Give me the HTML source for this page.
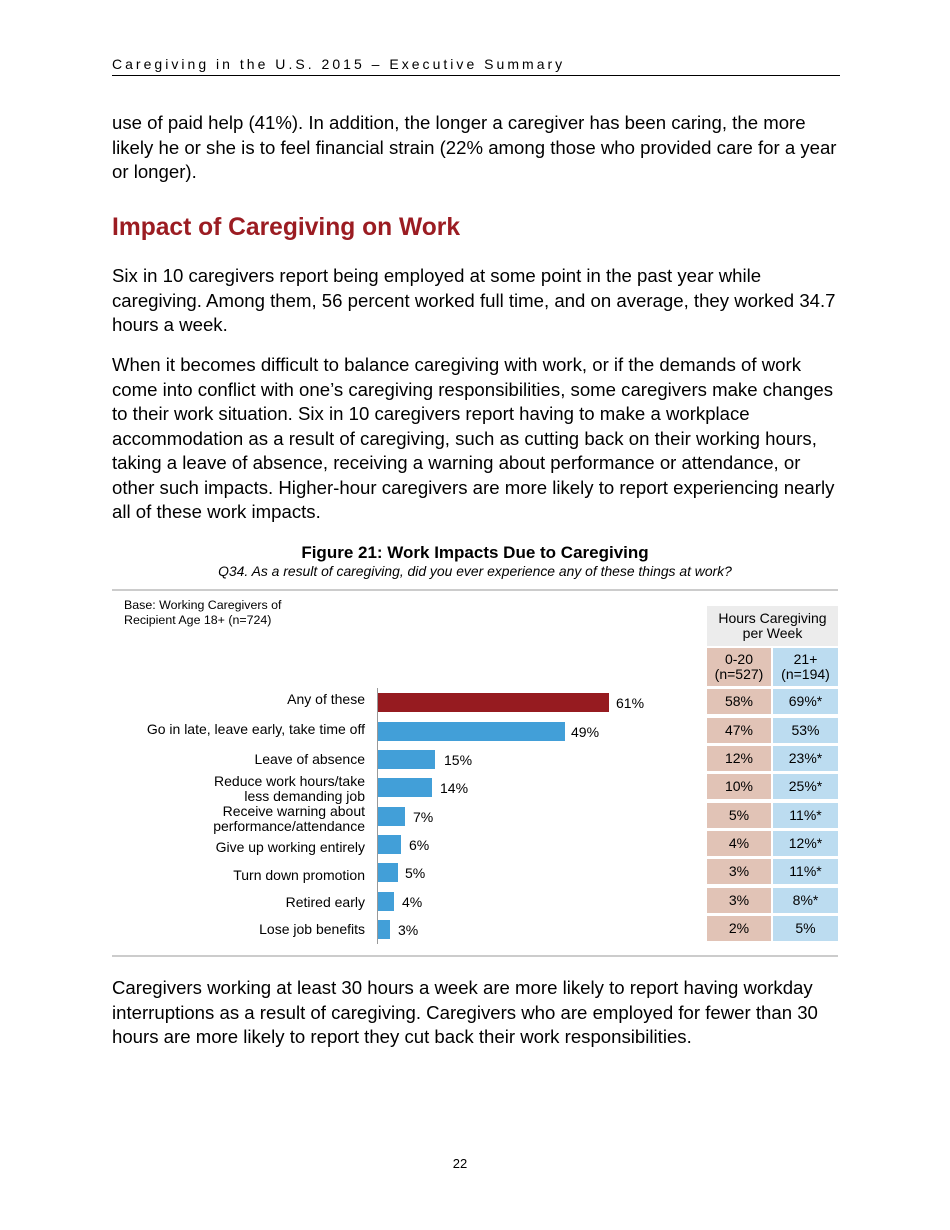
<!DOCTYPE html>
<html><head><meta charset="utf-8"><style>
body{margin:0;width:950px;height:1230px;background:#fff;position:relative;font-family:"Liberation Sans",Arial,sans-serif;color:#000;overflow:hidden}
.a{position:absolute;white-space:nowrap}
.p{font-size:18.6px;line-height:24.5px;left:112px}
.lab{position:absolute;right:585px;font-size:14px;text-align:right;line-height:15px;white-space:nowrap}
.bar{position:absolute;left:378px;height:19px;background:#429fd8}
.val{position:absolute;font-size:14px}
.c{position:absolute;font-size:14px;text-align:center;display:flex;align-items:center;justify-content:center;line-height:15px}
.pk{background:#e1c3b6;left:707px;width:64px}
.bl{background:#bcdcf0;left:773px;width:65px}
</style></head><body>
<div class="a" style="left:112px;top:56px;font-size:14px;letter-spacing:3.02px">Caregiving in the U.S. 2015 – Executive Summary</div>
<div class="a" style="left:112px;top:75px;width:728px;height:1px;background:#000"></div>
<div class="a p" style="top:111px">use of paid help (41%). In addition, the longer a caregiver has been caring, the more<br>likely he or she is to feel financial strain (22% among those who provided care for a year<br>or longer).</div>
<div class="a" style="left:112px;top:213px;font-size:24.6px;line-height:30px;font-weight:bold;color:#9b1c22">Impact of Caregiving on Work</div>
<div class="a p" style="top:264px">Six in 10 caregivers report being employed at some point in the past year while<br>caregiving. Among them, 56 percent worked full time, and on average, they worked 34.7<br>hours a week.</div>
<div class="a p" style="top:353px">When it becomes difficult to balance caregiving with work, or if the demands of work<br>come into conflict with one’s caregiving responsibilities, some caregivers make changes<br>to their work situation. Six in 10 caregivers report having to make a workplace<br>accommodation as a result of caregiving, such as cutting back on their working hours,<br>taking a leave of absence, receiving a warning about performance or attendance, or<br>other such impacts. Higher-hour caregivers are more likely to report experiencing nearly<br>all of these work impacts.</div>
<div class="a" style="left:0;width:950px;text-align:center;top:543px;font-size:17px;font-weight:bold">Figure 21: Work Impacts Due to Caregiving</div>
<div class="a" style="left:0;width:950px;text-align:center;top:563px;font-size:13.9px;font-style:italic">Q34. As a result of caregiving, did you ever experience any of these things at work?</div>
<div class="a" style="left:112px;top:589px;width:726px;height:2px;background:#ccc"></div>
<div class="a" style="left:112px;top:955px;width:726px;height:2px;background:#ccc"></div>
<div class="a" style="left:124px;top:598px;font-size:12.4px;line-height:15px">Base: Working Caregivers of<br>Recipient Age 18+ (n=724)</div>
<div class="a" style="left:377px;top:688px;width:1px;height:256px;background:#999"></div>

<div class="lab" style="top:692px">Any of these</div>
<div class="lab" style="top:722px">Go in late, leave early, take time off</div>
<div class="lab" style="top:752px">Leave of absence</div>
<div class="lab" style="top:774px">Reduce work hours/take<br>less demanding job</div>
<div class="lab" style="top:804px">Receive warning about<br>performance/attendance</div>
<div class="lab" style="top:840px">Give up working entirely</div>
<div class="lab" style="top:868px">Turn down promotion</div>
<div class="lab" style="top:895px">Retired early</div>
<div class="lab" style="top:922px">Lose job benefits</div>

<div class="bar" style="top:693px;width:231px;background:#961b20"></div><div class="val" style="left:616px;top:695px">61%</div>
<div class="bar" style="top:722px;width:187px"></div><div class="val" style="left:571px;top:724px">49%</div>
<div class="bar" style="top:750px;width:57px"></div><div class="val" style="left:444px;top:752px">15%</div>
<div class="bar" style="top:778px;width:54px"></div><div class="val" style="left:440px;top:780px">14%</div>
<div class="bar" style="top:807px;width:27px"></div><div class="val" style="left:413px;top:809px">7%</div>
<div class="bar" style="top:835px;width:23px"></div><div class="val" style="left:409px;top:837px">6%</div>
<div class="bar" style="top:863px;width:20px"></div><div class="val" style="left:405px;top:865px">5%</div>
<div class="bar" style="top:892px;width:16px"></div><div class="val" style="left:402px;top:894px">4%</div>
<div class="bar" style="top:920px;width:12px"></div><div class="val" style="left:398px;top:922px">3%</div>

<div class="c" style="left:707px;width:131px;top:606px;height:40px;background:#ececec">Hours Caregiving<br>per Week</div>
<div class="c pk" style="top:648px;height:38px">0-20<br>(n=527)</div>
<div class="c bl" style="top:648px;height:38px">21+<br>(n=194)</div>
<div class="c pk" style="top:689px;height:25px">58%</div><div class="c bl" style="top:689px;height:25px">69%*</div>
<div class="c pk" style="top:718px;height:25px">47%</div><div class="c bl" style="top:718px;height:25px">53%</div>
<div class="c pk" style="top:746px;height:25px">12%</div><div class="c bl" style="top:746px;height:25px">23%*</div>
<div class="c pk" style="top:774px;height:25px">10%</div><div class="c bl" style="top:774px;height:25px">25%*</div>
<div class="c pk" style="top:803px;height:25px">5%</div><div class="c bl" style="top:803px;height:25px">11%*</div>
<div class="c pk" style="top:831px;height:25px">4%</div><div class="c bl" style="top:831px;height:25px">12%*</div>
<div class="c pk" style="top:859px;height:25px">3%</div><div class="c bl" style="top:859px;height:25px">11%*</div>
<div class="c pk" style="top:888px;height:25px">3%</div><div class="c bl" style="top:888px;height:25px">8%*</div>
<div class="c pk" style="top:916px;height:25px">2%</div><div class="c bl" style="top:916px;height:25px">5%</div>

<div class="a p" style="top:976px">Caregivers working at least 30 hours a week are more likely to report having workday<br>interruptions as a result of caregiving. Caregivers who are employed for fewer than 30<br>hours are more likely to report they cut back their work responsibilities.</div>
<div class="a" style="left:0;width:920px;text-align:center;top:1156px;font-size:13px">22</div>
</body></html>
